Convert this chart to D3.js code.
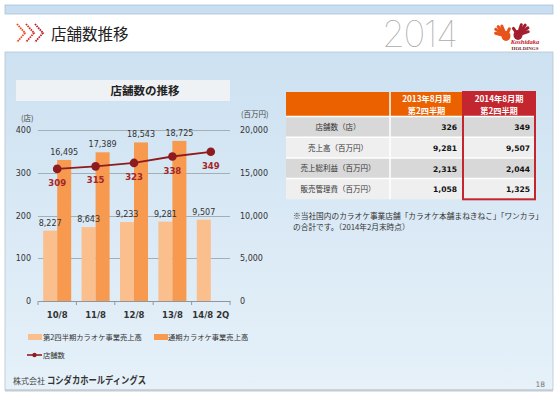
<!DOCTYPE html>
<html>
<head>
<meta charset="utf-8">
<script src="https://d3js.org/d3.v7.min.js"></script>
<style>
body { margin: 0; background: #fff; }
svg { display: block; }
</style>
</head>
<body>
<svg id="slide" width="560" height="396"></svg>
<script>
// chart data
var categories = ["10/8", "11/8", "12/8", "13/8", "14/8 2Q"];
var q2Sales = [8227, 8643, 9233, 9281, 9507];
var fullSales = [16495, 17389, 18543, 18725, null];
var stores = [309, 315, 323, 338, 349];
var leftTicks = [0, 100, 200, 300, 400];
var rightTicks = [0, 5000, 10000, 15000, 20000];

// table data
var rowLabels = ["店舗数（店）", "売上高（百万円）", "売上総利益（百万円）", "販売管理費（百万円）"];
var col2013 = ["326", "9,281", "2,315", "1,058"];
var col2014 = ["349", "9,507", "2,044", "1,325"];

var JP = "'Noto Sans CJK JP', sans-serif";
var NUM = "'DejaVu Sans', sans-serif";

var svg = d3.select("#slide");
var defs = svg.append("defs");

var grad = defs.append("linearGradient").attr("id", "bg").attr("x1", 0).attr("y1", 0).attr("x2", 0).attr("y2", 1);
grad.append("stop").attr("offset", "0%").attr("stop-color", "#cde1f1");
grad.append("stop").attr("offset", "100%").attr("stop-color", "#e6f1f9");

// slide frame
svg.append("rect").attr("x", 5).attr("y", 5).attr("width", 548).attr("height", 9)
	.attr("fill", "#c9def0").attr("stroke", "#a9c3d9").attr("stroke-width", 0.8);
svg.append("rect").attr("x", 5).attr("y", 52).attr("width", 548).attr("height", 338)
	.attr("fill", "url(#bg)").attr("stroke", "#b6c6d3").attr("stroke-width", 0.8);
svg.append("line").attr("x1", 5).attr("x2", 553).attr("y1", 390.5).attr("y2", 390.5)
	.attr("stroke", "#c4ccd3").attr("stroke-width", 2);

// header
var chevColors = ["#ea4a1c", "#d32c24", "#b21f2c"];
chevColors.forEach(function (c, i) {
	var x0 = 17 + i * 9;
	svg.append("polyline")
		.attr("points", x0 + ",24 " + (x0 + 8) + ",33 " + x0 + ",42")
		.attr("fill", "none").attr("stroke", c).attr("stroke-width", 1.8)
		.attr("stroke-dasharray", "1.6 0.8");
});
svg.append("text").attr("x", 51).attr("y", 39.5)
	.attr("font-family", JP).attr("font-size", 15.5).attr("fill", "#222")
	.text("店舗数推移");
svg.append("text").attr("x", 382).attr("y", 47)
	.attr("font-family", "Inter, 'Open Sans', sans-serif").attr("font-weight", 100)
	.attr("font-size", 37).attr("fill", "#ababab").attr("letter-spacing", -1.5)
	.text("2014");

// logo hands: palm position, finger angles (deg from up, clockwise), thumb angle
function hand(px, py, color, fingers, thumb) {
	var g = svg.append("g");
	g.append("ellipse").attr("cx", px).attr("cy", py).attr("rx", 4.5).attr("ry", 5).attr("fill", color);
	fingers.forEach(function (a, i) {
		var r = a * Math.PI / 180;
		var len = 13 - Math.abs(i - 1.5) * 1.5;
		g.append("line").attr("x1", px).attr("y1", py)
			.attr("x2", px + Math.sin(r) * len).attr("y2", py - Math.cos(r) * len)
			.attr("stroke", color).attr("stroke-width", 3).attr("stroke-linecap", "round");
	});
	var t = thumb * Math.PI / 180;
	g.append("line").attr("x1", px).attr("y1", py)
		.attr("x2", px + Math.sin(t) * 8).attr("y2", py - Math.cos(t) * 8)
		.attr("stroke", color).attr("stroke-width", 3).attr("stroke-linecap", "round");
}
hand(518, 35, "#a31e2e", [18, 36, 54, 72], -35);
hand(506, 36, "#e8531c", [-75, -57, -40, -23], 25);
svg.append("text").attr("x", 525).attr("y", 43.5).attr("text-anchor", "middle")
	.attr("font-family", "'Liberation Serif', serif").attr("font-style", "italic").attr("font-weight", "bold")
	.attr("font-size", 6.5).attr("fill", "#c3172c").text("Koshidaka");
svg.append("text").attr("x", 525).attr("y", 49.5).attr("text-anchor", "middle")
	.attr("font-family", "'Liberation Serif', serif").attr("font-weight", "bold")
	.attr("font-size", 5).attr("fill", "#7a1b22").text("HOLDINGS");

// chart title box
svg.append("rect").attr("x", 16).attr("y", 80).attr("width", 214).attr("height", 21).attr("fill", "#eff2f5");
svg.append("text").attr("x", 145).attr("y", 94.5).attr("text-anchor", "middle")
	.attr("font-family", JP).attr("font-weight", "bold").attr("font-size", 11.5).attr("fill", "#222")
	.text("店舗数の推移");

// scales
var x = d3.scaleBand().domain(categories).range([38, 230]);
var yL = d3.scaleLinear().domain([0, 400]).range([301, 130]);
var yR = d3.scaleLinear().domain([0, 20000]).range([301, 130]);
var barW = 14;

// gridlines
svg.append("g").selectAll("line").data(leftTicks.slice(1)).enter().append("line")
	.attr("x1", 38).attr("x2", 230)
	.attr("y1", function (d) { return Math.round(yL(d)) + 0.5; })
	.attr("y2", function (d) { return Math.round(yL(d)) + 0.5; })
	.attr("stroke", "#a3aeb7").attr("stroke-width", 1.2);

// left axis
var left = svg.append("g").attr("transform", "translate(38,0)")
	.call(d3.axisLeft(yL).tickValues(leftTicks).tickSize(0).tickPadding(7));
left.select(".domain").remove();
left.selectAll("text").attr("font-family", NUM).attr("font-size", 8).attr("fill", "#333");

// right axis
var right = svg.append("g").attr("transform", "translate(230,0)")
	.call(d3.axisRight(yR).tickValues(rightTicks).tickSize(0).tickPadding(10).tickFormat(d3.format(",")));
right.select(".domain").remove();
right.selectAll("text").attr("font-family", NUM).attr("font-size", 8).attr("fill", "#333");

svg.append("text").attr("x", 21).attr("y", 121).attr("font-family", JP).attr("font-size", 7.5).attr("fill", "#444").text("(店)");
svg.append("text").attr("x", 241).attr("y", 117).attr("font-family", JP).attr("font-size", 7.5).attr("fill", "#444").text("(百万円)");

// bars
var bars = svg.append("g");
bars.selectAll("rect.q2").data(categories).enter().append("rect").attr("class", "q2")
	.attr("x", function (d) { return x(d) + x.bandwidth() / 2 - barW; })
	.attr("y", function (d, i) { return yR(q2Sales[i]); })
	.attr("width", barW)
	.attr("height", function (d, i) { return yR(0) - yR(q2Sales[i]); })
	.attr("fill", "#fbbf8e");
bars.selectAll("rect.full").data(categories.filter(function (d, i) { return fullSales[i] !== null; }))
	.enter().append("rect").attr("class", "full")
	.attr("x", function (d) { return x(d) + x.bandwidth() / 2; })
	.attr("y", function (d, i) { return yR(fullSales[i]); })
	.attr("width", barW)
	.attr("height", function (d, i) { return yR(0) - yR(fullSales[i]); })
	.attr("fill", "#f7994f");

// bottom axis
var bottom = svg.append("g").attr("transform", "translate(0,301)")
	.call(d3.axisBottom(x).tickSize(0).tickPadding(11));
bottom.select(".domain").attr("stroke", "#8e979f").attr("stroke-width", 1.2);
bottom.selectAll("text").attr("font-family", NUM).attr("font-weight", "bold").attr("font-size", 8.5).attr("fill", "#333");
bottom.selectAll("line.sep").data(x.domain().map(function (d) { return x(d); }).concat([x.range()[1]]))
	.enter().append("line").attr("class", "sep")
	.attr("x1", function (d) { return d; }).attr("x2", function (d) { return d; })
	.attr("y1", 0).attr("y2", 4).attr("stroke", "#8e979f");

// bar labels
var labels = svg.append("g").attr("font-family", NUM).attr("font-size", 8).attr("fill", "#333").attr("text-anchor", "middle");
categories.forEach(function (c, i) {
	labels.append("text").attr("x", x(c) + x.bandwidth() / 2 - barW / 2).attr("y", yR(q2Sales[i]) - 5)
		.text(d3.format(",")(q2Sales[i]));
	if (fullSales[i] !== null) {
		labels.append("text").attr("x", x(c) + x.bandwidth() / 2 + barW / 2).attr("y", yR(fullSales[i]) - 5)
			.text(d3.format(",")(fullSales[i]));
	}
});

// store count line
var line = d3.line()
	.x(function (d, i) { return x(categories[i]) + x.bandwidth() / 2; })
	.y(function (d) { return yL(d); });
svg.append("path").datum(stores).attr("d", line)
	.attr("fill", "none").attr("stroke", "#8e1c1f").attr("stroke-width", 1.8);
svg.append("g").selectAll("circle").data(stores).enter().append("circle")
	.attr("cx", function (d, i) { return x(categories[i]) + x.bandwidth() / 2; })
	.attr("cy", function (d) { return yL(d); })
	.attr("r", 4.3).attr("fill", "#8e1c1f");
svg.append("g").selectAll("text").data(stores).enter().append("text")
	.attr("x", function (d, i) { return x(categories[i]) + x.bandwidth() / 2; })
	.attr("y", function (d) { return yL(d) + 17; })
	.attr("text-anchor", "middle").attr("font-family", NUM).attr("font-weight", "bold")
	.attr("font-size", 8.5).attr("fill", "#a3262a")
	.text(function (d) { return d; });

// legend
var legend = svg.append("g").attr("font-family", JP).attr("font-size", 7.3).attr("fill", "#333");
legend.append("rect").attr("x", 28).attr("y", 334).attr("width", 14).attr("height", 6).attr("fill", "#fbbf8e");
legend.append("text").attr("x", 43).attr("y", 339.5).text("第2四半期カラオケ事業売上高");
legend.append("rect").attr("x", 154).attr("y", 334).attr("width", 14).attr("height", 6).attr("fill", "#f7994f");
legend.append("text").attr("x", 168).attr("y", 339.5).text("通期カラオケ事業売上高");
legend.append("line").attr("x1", 27).attr("x2", 42).attr("y1", 355).attr("y2", 355).attr("stroke", "#8e1c1f").attr("stroke-width", 1.6);
legend.append("circle").attr("cx", 34.5).attr("cy", 355).attr("r", 2.2).attr("fill", "#8e1c1f");
legend.append("text").attr("x", 43).attr("y", 358).text("店舗数");

// table
var colX = [286, 390, 463, 535];
var headTop = 92, headH = 24.5, rowH = 20.7;
var tbl = svg.append("g");
tbl.append("rect").attr("x", colX[0]).attr("y", headTop).attr("width", colX[2] - colX[0]).attr("height", headH).attr("fill", "#eb6100");
tbl.append("rect").attr("x", colX[2]).attr("y", headTop).attr("width", colX[3] - colX[2]).attr("height", headH).attr("fill", "#c3262e");
tbl.append("line").attr("x1", colX[1]).attr("x2", colX[1]).attr("y1", headTop).attr("y2", headTop + headH).attr("stroke", "#fff").attr("stroke-width", 1.5);
[["2013年8月期", "第2四半期"], ["2014年8月期", "第2四半期"]].forEach(function (h, j) {
	var cx = (colX[j + 1] + colX[j + 2]) / 2;
	h.forEach(function (s, k) {
		tbl.append("text").attr("x", cx).attr("y", headTop + 9.8 + k * 12)
			.attr("text-anchor", "middle").attr("font-family", JP).attr("font-weight", "bold")
			.attr("font-size", 8.2).attr("fill", "#fff").text(s);
	});
});
rowLabels.forEach(function (lab, i) {
	var y0 = headTop + headH + i * rowH;
	var fill = i % 2 === 0 ? "#d8d8d8" : "#efefef";
	tbl.append("rect").attr("x", colX[0]).attr("y", y0).attr("width", colX[3] - colX[0]).attr("height", rowH).attr("fill", fill);
	tbl.append("line").attr("x1", colX[0]).attr("x2", colX[3]).attr("y1", y0).attr("y2", y0).attr("stroke", "#fff").attr("stroke-width", 1.5);
	tbl.append("line").attr("x1", colX[1]).attr("x2", colX[1]).attr("y1", y0).attr("y2", y0 + rowH).attr("stroke", "#fff").attr("stroke-width", 1.5);
	tbl.append("text").attr("x", (colX[0] + colX[1]) / 2).attr("y", y0 + 13.5).attr("text-anchor", "middle")
		.attr("font-family", JP).attr("font-size", 7.5).attr("fill", "#333").text(lab);
	tbl.append("text").attr("x", colX[2] - 6).attr("y", y0 + 13.8).attr("text-anchor", "end")
		.attr("font-family", NUM).attr("font-weight", "bold").attr("font-size", 7.6).attr("fill", "#111").text(col2013[i]);
	tbl.append("text").attr("x", colX[3] - 5).attr("y", y0 + 13.8).attr("text-anchor", "end")
		.attr("font-family", NUM).attr("font-weight", "bold").attr("font-size", 7.6).attr("fill", "#111").text(col2014[i]);
});
tbl.append("rect").attr("x", colX[2]).attr("y", headTop).attr("width", colX[3] - colX[2])
	.attr("height", headH + rowLabels.length * rowH)
	.attr("fill", "none").attr("stroke", "#c3262e").attr("stroke-width", 2);

// note
var note = svg.append("g").attr("font-family", JP).attr("font-size", 7.7).attr("fill", "#333");
note.append("text").attr("x", 293).attr("y", 219).text("※当社国内のカラオケ事業店舗「カラオケ本舗まねきねこ」「ワンカラ」");
note.append("text").attr("x", 293).attr("y", 229.5).text("の合計です。（2014年2月末時点）");

// footer
svg.append("text").attr("x", 13).attr("y", 383.5).attr("font-family", JP).attr("font-size", 8).attr("fill", "#444").text("株式会社");
svg.append("text").attr("x", 47).attr("y", 384).attr("font-family", JP).attr("font-weight", "bold")
	.attr("font-size", 10).attr("fill", "#333").attr("textLength", 99).attr("lengthAdjust", "spacingAndGlyphs")
	.text("コシダカホールディングス");
svg.append("text").attr("x", 545).attr("y", 387).attr("text-anchor", "end").attr("font-family", NUM)
	.attr("font-size", 7.5).attr("fill", "#777").text("18");
</script>
</body>
</html>
